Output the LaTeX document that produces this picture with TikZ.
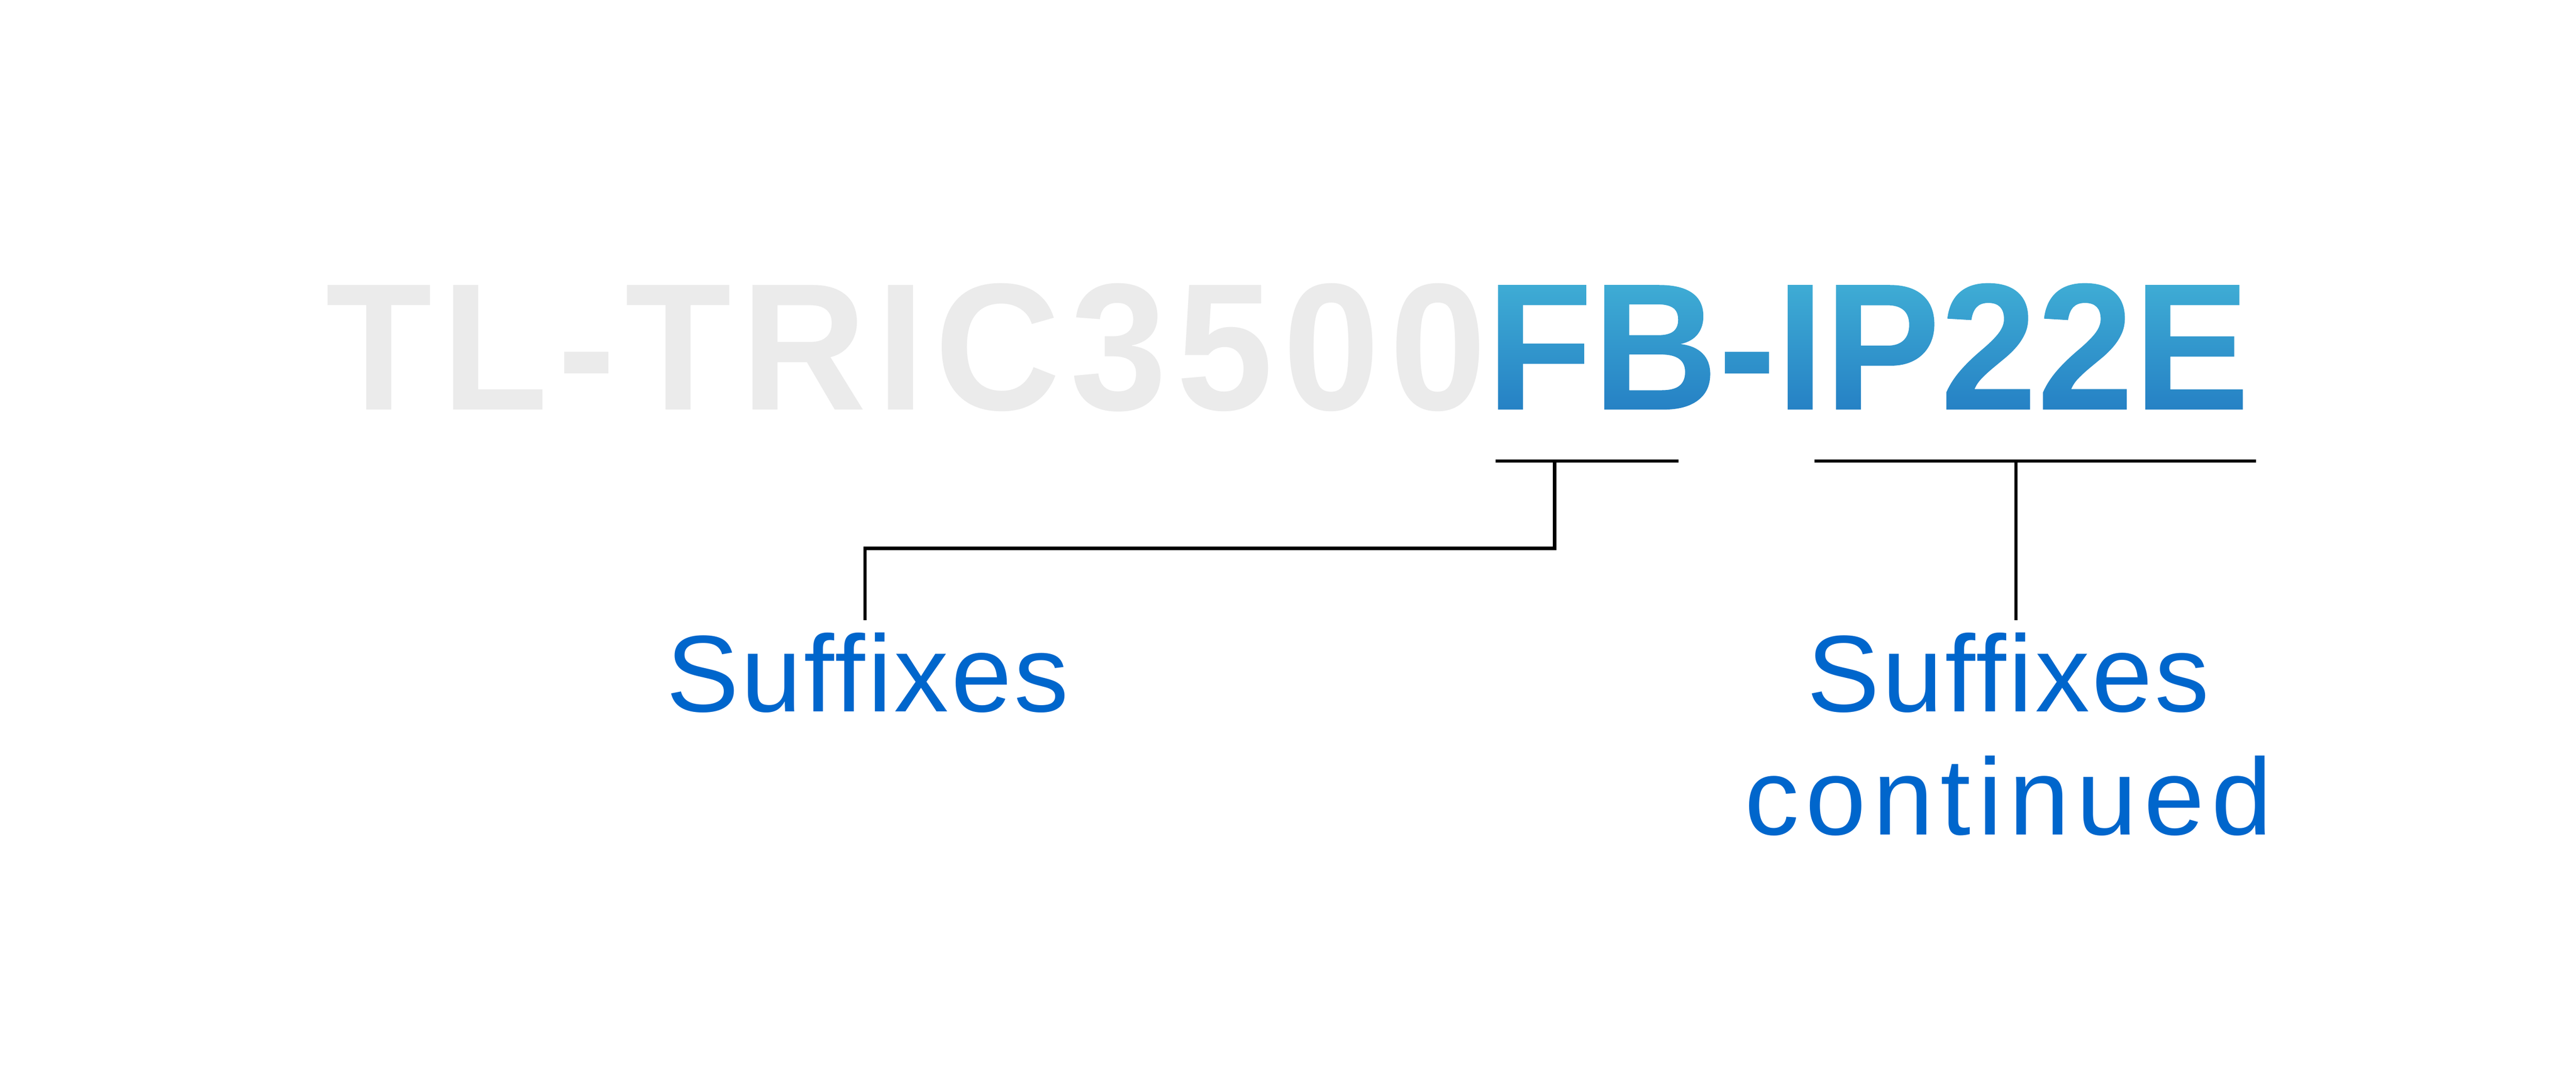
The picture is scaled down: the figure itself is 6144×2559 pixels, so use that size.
\documentclass[tikz,border=0pt]{standalone}
\usepackage{fontspec}
\setmainfont{Liberation Sans}
\newfontfamily\graycodefont[LetterSpace=5.4, FakeStretch=0.96]{Liberation Sans}
\newfontfamily\bluecodefont[FakeStretch=0.96]{Liberation Sans}
\newfontfamily\lblfontA[LetterSpace=2.2]{Liberation Sans}
\newfontfamily\lblfontB[LetterSpace=6.3]{Liberation Sans}
\definecolor{codegray}{HTML}{EBEBEB}
\definecolor{codetop}{HTML}{4BC1DC}
\definecolor{codebot}{HTML}{196CBD}
\definecolor{lblblue}{HTML}{0066CC}
\tikzset{
  codetext/.style={inner sep=0pt, anchor=base west},
  lbl/.style={inner sep=0pt, text=lblblue, anchor=base},
  conn/.style={draw=black, line width=0.8pt},
}
\begin{document}
\begin{tikzpicture}[x=0.1pt, y=-0.1pt]
  \useasboundingbox (0,0) rectangle (6144,2559);
  \fill[white] (0,0) rectangle (6144,2559);
  % model code, grey part
  \node[codetext, text=codegray, font=\graycodefont\bfseries\fontsize{43.2}{43.2}\selectfont] (codegray) at (775,977) {TL-TRIC3500};
  % model code, blue part: the text is used as a clip for a vertical gradient
  \node[codetext, text=codebot, font=\bluecodefont\bfseries\fontsize{43.2}{43.2}\selectfont] (codeblue) at (3543,977)
    {\special{pdf:literal direct q 7 Tr}%
     \rlap{FB-IP22E}%
     \rlap{\kern-5pt\tikz[x=1pt,y=1pt,baseline=0pt]\shade[top color=codetop, bottom color=codebot] (0,-14.85) rectangle (200,44.55);}%
     \special{pdf:literal direct Q}%
     \kern181pt};
  % underlines
  \coordinate (ulAw) at (3567,1100);
  \coordinate (ulAe) at (4003,1100);
  \coordinate (ulBw) at (4328,1100);
  \coordinate (ulBe) at (5381,1100);
  \draw[conn] (ulAw) -- (ulAe);
  \draw[conn] (ulBw) -- (ulBe);
  \coordinate (tapA) at (3708,1100);
  \coordinate (tapB) at (4808,1100);
  % labels
  \node[lbl, font=\lblfontA\fontsize{26}{29.4}\selectfont] (sufA) at (2069,1697) {Suffixes};
  \node[lbl, align=center, font=\fontsize{26}{29.4}\selectfont] (sufB) at (4790,1991) {{\lblfontA Suffixes}\\{\lblfontB continued}};
  \coordinate (endA) at (2063,1479);
  \coordinate (endB) at (4808,1479);
  % connectors
  \draw[conn] (tapA) -- (3708,1308) -| (endA);
  \draw[conn] (tapB) -- (endB);
\end{tikzpicture}
\end{document}
